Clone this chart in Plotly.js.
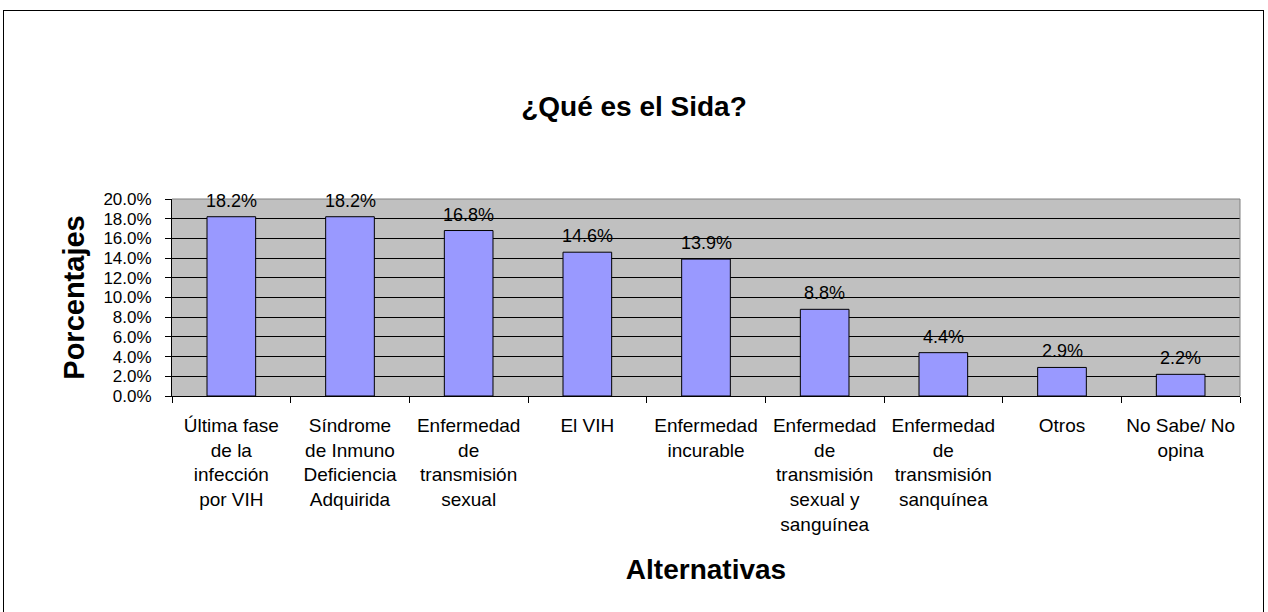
<!DOCTYPE html>
<html><head><meta charset="utf-8">
<script src="https://cdn.plot.ly/plotly-3.0.1.min.js"></script>
<style>
html,body{margin:0;padding:0;background:#fff;}
#wrap{position:relative;width:1268px;height:612px;}
#chart{width:1268px;height:612px;}
#frame{position:absolute;left:3px;top:10px;width:1261px;height:610px;border:1px solid #000;box-sizing:border-box;pointer-events:none;}
</style></head>
<body>
<div id="wrap"><div id="chart"></div><div id="frame"></div></div>
<script>
const categories = [
  "Última fase<br>de la<br>infección<br>por VIH",
  "Síndrome<br>de Inmuno<br>Deficiencia<br>Adquirida",
  "Enfermedad<br>de<br>transmisión<br>sexual",
  "El VIH",
  "Enfermedad<br>incurable",
  "Enfermedad<br>de<br>transmisión<br>sexual y<br>sanguínea",
  "Enfermedad<br>de<br>transmisión<br>sanquínea",
  "Otros",
  "No Sabe/ No<br>opina"
];
const values = [0.182, 0.182, 0.168, 0.146, 0.139, 0.088, 0.044, 0.029, 0.022];
const yTickValues = [0, 0.02, 0.04, 0.06, 0.08, 0.10, 0.12, 0.14, 0.16, 0.18, 0.20];

const font = "Liberation Sans, Arial, sans-serif";
const trace = {
  type: 'bar',
  x: categories,
  y: values,
  marker: {color: '#9999FF', line: {color: '#000000', width: 1}},
  hoverinfo: 'none'
};
const labels = categories.map((c, i) => ({
  x: c, y: values[i], xref: 'x', yref: 'y',
  text: (values[i] * 100).toFixed(1) + '%',
  showarrow: false, yanchor: 'bottom', yshift: 4,
  font: {family: font, size: 18, color: '#000'}
}));
const layout = {
  width: 1268, height: 612,
  margin: {l: 172, r: 28, t: 199, b: 216},
  paper_bgcolor: '#ffffff',
  plot_bgcolor: '#C0C0C0',
  bargap: 0.59,
  showlegend: false,
  font: {family: font, size: 18, color: '#000'},
  title: {text: '<b>¿Qué es el Sida?</b>', font: {family: font, size: 28, color: '#000'},
          x: 0.5, xref: 'container', y: 1 - 106/612, yanchor: 'middle'},
  xaxis: {
    tickson: 'boundaries', ticks: 'outside', ticklen: 6, tickcolor: '#000',
    showline: true, linecolor: '#000', linewidth: 1,
    tickfont: {family: font, size: 19, color: '#000'},
    ticklabelstandoff: 12,
    showgrid: false, automargin: false, tickangle: 0,
    title: {text: '<b>Alternativas</b>', font: {family: font, size: 28, color: '#000'}, standoff: 25}
  },
  yaxis: {
    range: [0, 0.2], tickvals: yTickValues, tickformat: '.1%',
    ticks: 'outside', ticklen: 6, tickcolor: '#000',
    showline: true, linecolor: '#000', linewidth: 1,
    showgrid: true, gridcolor: '#000', gridwidth: 1, zeroline: false,
    tickfont: {family: font, size: 17, color: '#000'},
    ticklabelstandoff: 10,
    automargin: false,
    title: {text: '<b>Porcentajes</b>', font: {family: font, size: 29, color: '#000'}, standoff: 10}
  },
  annotations: labels,
  shapes: [
    {type: 'line', xref: 'paper', yref: 'paper', x0: 0, x1: 1, y0: 1, y1: 1, line: {color: '#808080', width: 1}},
    {type: 'line', xref: 'paper', yref: 'paper', x0: 1, x1: 1, y0: 0, y1: 1, line: {color: '#808080', width: 1}}
  ]
};
Plotly.newPlot('chart', [trace], layout, {staticPlot: true});
</script>
</body></html>
